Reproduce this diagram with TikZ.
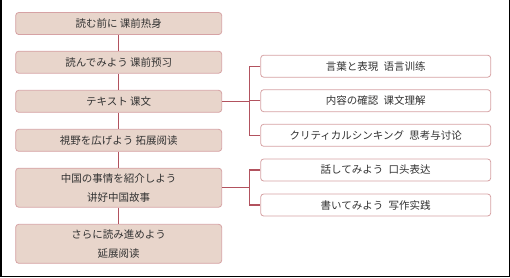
\documentclass[tikz,border=0pt]{standalone}
\usepackage{fontspec}
\newfontfamily\cjk{Noto Sans CJK JP}
\definecolor{boxfill}{RGB}{232,213,203}
\definecolor{boxline}{RGB}{214,162,164}
\definecolor{linkred}{RGB}{178,82,94}
\begin{document}
\begin{tikzpicture}[x=1pt, y=-1pt,
	lesson/.style={draw=boxline, fill=boxfill, rounded corners=3pt, line width=0.8pt, minimum width=206pt, minimum height=22pt, align=center, text=black!80, font=\cjk\fontsize{10.5}{19}\selectfont},
	part/.style={lesson, fill=white, minimum width=230pt},
	link/.style={draw=linkred, line width=1.3pt}]
	\useasboundingbox (0,0) rectangle (510,277);
	\draw[line width=1.5pt] (0.75,0) -- (0.75,276.25) -- (509.25,276.25) -- (509.25,0);
	% left column
	\node[lesson] (l1) at (118.7,23.5) {読む前に 课前热身};
	\node[lesson] (l2) at (118.7,62.2) {読んでみよう 课前预习};
	\node[lesson] (l3) at (118.7,101.3) {テキスト 课文};
	\node[lesson] (l4) at (118.7,140.3) {視野を広げよう 拓展阅读};
	\node[lesson, minimum height=39pt] (l5) at (118.7,187.7) {中国の事情を紹介しよう\\讲好中国故事};
	\node[lesson, minimum height=39pt] (l6) at (118.7,243.8) {さらに読み進めよう\\延展阅读};
	\foreach \a/\b in {l1/l2,l2/l3,l3/l4,l4/l5,l5/l6}
		\draw[link] (\a) -- (\b);
	% right column
	\node[part] (p1) at (375.7,66.2) {言葉と表現\enspace 语言训练};
	\node[part] (p2) at (375.7,100.7) {内容の確認\enspace 课文理解};
	\node[part] (p3) at (375.7,135.3) {クリティカルシンキング\enspace 思考与讨论};
	\node[part] (p4) at (375.7,170) {話してみよう\enspace 口头表达};
	\node[part] (p5) at (375.7,205) {書いてみよう\enspace 写作实践};
	\coordinate (b1) at (249.3,101);
	\coordinate (b2) at (249.3,188);
	\draw[link] (l3.east) -- (l3.east -| b1);
	\draw[link] (p1.west) -| (b1) |- (p3.west);
	\draw[link] (p2.west) -- (p2.west -| b1);
	\draw[link] (l5.east) -- (l5.east -| b2);
	\draw[link] (p4.west) -| (b2) |- (p5.west);
\end{tikzpicture}
\end{document}
